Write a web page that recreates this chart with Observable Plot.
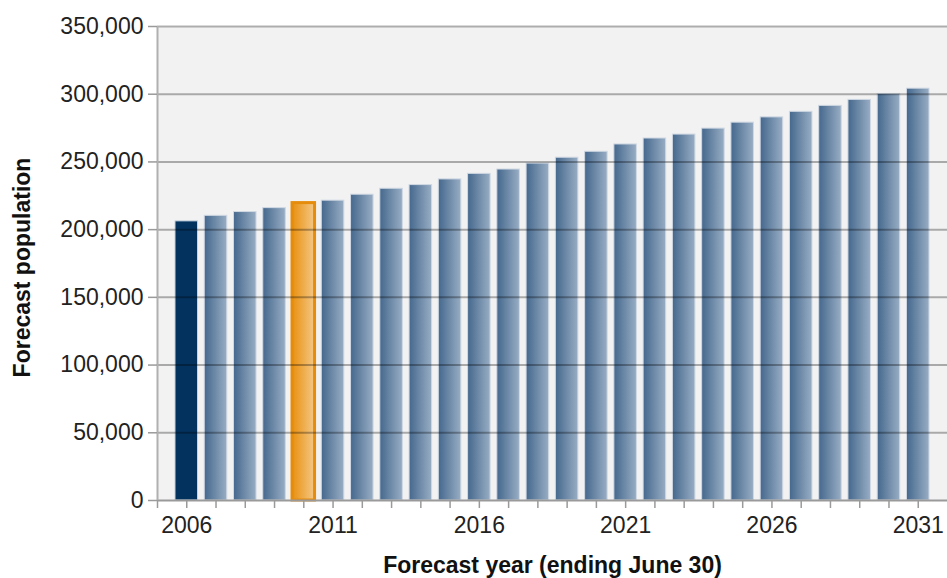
<!DOCTYPE html>
<html>
<head>
<meta charset="utf-8">
<script src="https://cdn.jsdelivr.net/npm/d3@7"></script>
<script src="https://cdn.jsdelivr.net/npm/@observablehq/plot@0.6"></script>
<style>
  html, body { margin: 0; padding: 0; background: #ffffff; }
  #chart { width: 947px; height: 578px; }
</style>
</head>
<body>
<div id="chart"></div>
<script>
// ---- Data ----
const years = [2006, 2007, 2008, 2009, 2010, 2011, 2012, 2013, 2014, 2015, 2016, 2017, 2018,
               2019, 2020, 2021, 2022, 2023, 2024, 2025, 2026, 2027, 2028, 2029, 2030, 2031];
const population = [206100, 210200, 213000, 215900, 219600, 221400, 225800, 230200, 232900, 237100,
                    241200, 244400, 248800, 253100, 257500, 262900, 267300, 270200, 274600, 279000,
                    282900, 287000, 291400, 295800, 300200, 304100];
const baseYear = 2006;
const currentYear = 2010;
const yTicks = [0, 50000, 100000, 150000, 200000, 250000, 300000, 350000];
const xTickYears = [2005, 2006, 2007, 2008, 2009, 2010, 2011, 2012, 2013, 2014, 2015, 2016, 2017, 2018,
                    2019, 2020, 2021, 2022, 2023, 2024, 2025, 2026, 2027, 2028, 2029, 2030, 2031];
const xTickLabels = [2006, 2011, 2016, 2021, 2026, 2031];
const yTitle = "Forecast population";
const xTitle = "Forecast year (ending June 30)";

const data = years.map((year, i) => ({year, value: population[i]}));
const half = 0.385;
const barOpts = {x1: d => d.year - half, x2: d => d.year + half, y1: 0, y2: "value"};

const font = "'Liberation Sans', Arial, sans-serif";

const svg = Plot.plot({
  width: 947,
  height: 578,
  marginTop: 26,
  marginLeft: 157,
  marginRight: 0,
  marginBottom: 78,
  style: {fontFamily: font, fontSize: "23px", background: "#ffffff", overflow: "visible"},
  x: {domain: [2005, 2032], axis: null},
  y: {domain: [0, 350000], axis: null},
  marks: [
    Plot.frame({fill: "#f2f2f2", stroke: null}),
    // bars
    Plot.rect(data.filter(d => d.year !== baseYear && d.year !== currentYear),
      {...barOpts, fill: "url(#barGrad)", stroke: "#cfd8e3", strokeWidth: 1}),
    Plot.rect(data.filter(d => d.year === baseYear),
      {...barOpts, fill: "#03325f", stroke: "#c9d2de", strokeWidth: 1}),
    Plot.rect(data.filter(d => d.year === currentYear),
      {...barOpts, fill: "url(#orangeGrad)", stroke: "#e68c0c", strokeWidth: 3}),
    // gridlines over bars
    Plot.ruleY(yTicks.filter(t => t > 0), {stroke: "#000", strokeOpacity: 0.3, strokeWidth: 2}),
    // axis lines
    Plot.ruleY([0], {stroke: "#9a9a9a", strokeWidth: 2}),
    Plot.ruleX([2005], {stroke: "#b0b0b0", strokeWidth: 2}),
    // axes
    Plot.axisY({ticks: yTicks, tickFormat: d3.format(","), tickSize: 9, tickPadding: 5,
      stroke: "#9a9a9a", fill: "#222", strokeWidth: 1.5, fontSize: 23, label: null}),
    Plot.axisX({ticks: xTickYears, tickFormat: d => xTickLabels.includes(d) ? String(d) : "",
      tickSize: 8, tickPadding: 8, stroke: "#9a9a9a", fill: "#222", strokeWidth: 1.5, fontSize: 23, label: null}),
    // titles
    Plot.text([yTitle], {frameAnchor: "left", dx: -135, dy: 4, rotate: -90, text: d => d,
      textAnchor: "middle", fontWeight: "bold", fontSize: 23, fill: "#111", lineAnchor: "middle"}),
    Plot.text([xTitle], {frameAnchor: "bottom", dy: 65, text: d => d,
      textAnchor: "middle", fontWeight: "bold", fontSize: 23, fill: "#111", lineAnchor: "middle"})
  ]
});

// gradient definitions used by the bar fills
const defs = d3.create("svg:defs");
const g1 = defs.append("linearGradient").attr("id", "barGrad")
  .attr("x1", "0").attr("x2", "1").attr("y1", "0").attr("y2", "0");
g1.append("stop").attr("offset", "0%").attr("stop-color", "#45688d");
g1.append("stop").attr("offset", "100%").attr("stop-color", "#98adc4");
const g2 = defs.append("linearGradient").attr("id", "orangeGrad")
  .attr("x1", "0").attr("x2", "1").attr("y1", "0").attr("y2", "0");
g2.append("stop").attr("offset", "0%").attr("stop-color", "#e8900f");
g2.append("stop").attr("offset", "100%").attr("stop-color", "#f4c887");
svg.insertBefore(defs.node(), svg.firstChild);

document.getElementById("chart").appendChild(svg);
</script>
</body>
</html>
